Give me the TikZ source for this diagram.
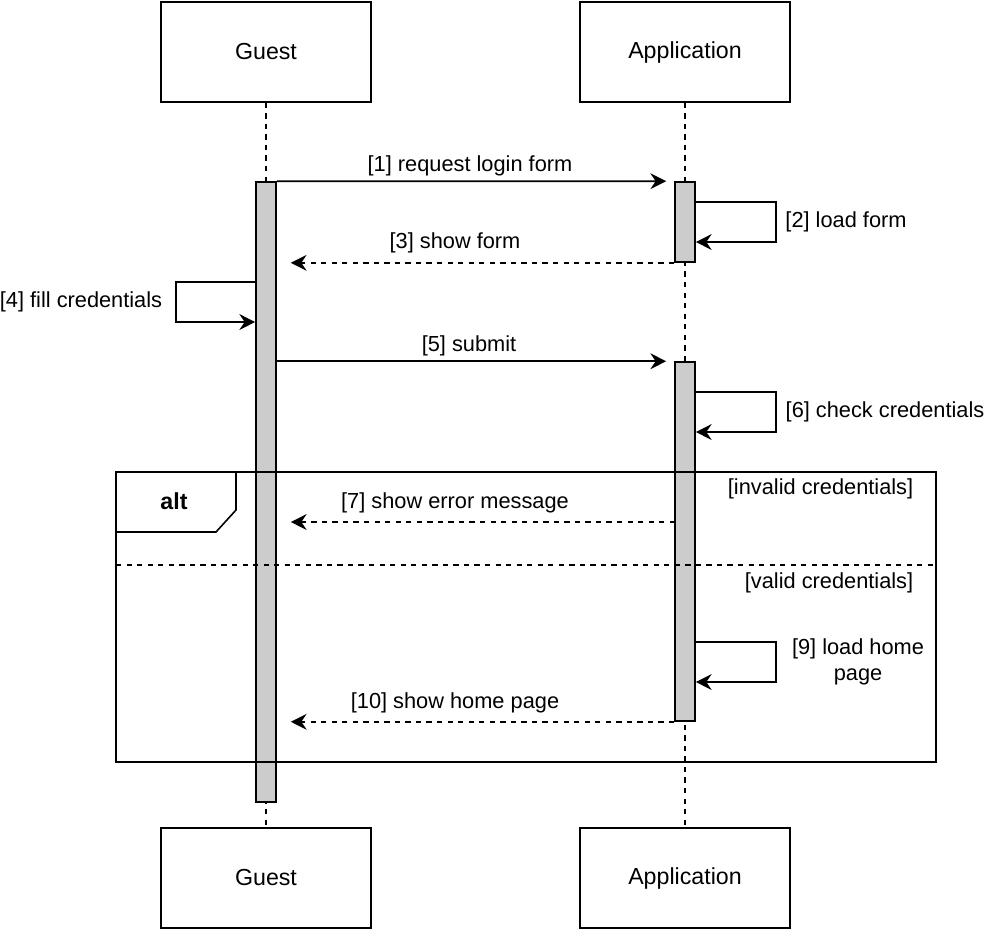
\documentclass[tikz,border=0pt]{standalone}
\usepackage{fontspec}
\setmainfont{Liberation Sans}
\usepackage{xcolor}
\usetikzlibrary{arrows.meta}
\definecolor{bargray}{HTML}{CCCCCC}

\begin{document}
\begin{tikzpicture}[x=0.02cm,y=-0.02cm,line width=0.9pt,
  actor/.style={draw,minimum width=4.2cm,minimum height=2cm,font=\fontsize{13.2}{15}\selectfont},
  lifeline/.style={dashed},
  bar/.style={draw,fill=bargray,minimum width=0.4cm,inner sep=0pt},
  msg/.style={-{Stealth[length=9pt,width=9pt,inset=3pt]}},
  ret/.style={msg,dashed},
  lbl/.style={font=\fontsize{12.4}{15}\selectfont}]
  \useasboundingbox (0,0) rectangle (991,937);
  \node[actor] at(266,52)(gtop){Guest};
  \node[actor] at(685,52)(atop){Application};
  \node[actor] at(266,878)(gbot){Guest};
  \node[actor] at(685,878)(abot){Application};
  \draw [lifeline](gtop) -- (gbot);
  \draw [lifeline](atop) -- (abot);
  \node[bar,minimum height=12.4cm] at(266,492)(gbar){};
  \node[bar,minimum height=1.6cm] at(685,222)(abar1){};
  \node[bar,minimum height=7.18cm] at(685,541.5)(abar2){};
  \coordinate (l2a) at(695,202);
  \coordinate (l2b) at(776,242);
  \coordinate (l4a) at(256,282);
  \coordinate (l4b) at(176,322);
  \coordinate (l6a) at(695,392);
  \coordinate (l6b) at(776,432);
  \coordinate (m7) at(675,522);
  \coordinate (l9a) at(695,642);
  \coordinate (l9b) at(776,682);
  \draw [msg](gbar.north east) -- ([xshift=-0.16cm]abar1.north west);
  \draw [msg](l2a) -| (l2b) -- (abar1.east |- l2b);
  \draw [ret](abar1.south west) -- ([xshift=0.28cm]gbar.east |- abar1.south west);
  \draw [msg](l4a) -| (l4b) -- (gbar.west |- l4b);
  \draw [msg](gbar.east |- abar2.north) -- ([xshift=-0.16cm]abar2.north west);
  \draw [msg](l6a) -| (l6b) -- (abar2.east |- l6b);
  \draw [ret](m7) -- ([xshift=0.28cm]gbar.east |- m7);
  \draw [msg](l9a) -| (l9b) -- (abar2.east |- l9b);
  \draw [ret](abar2.south west) -- ([xshift=0.28cm]gbar.east |- abar2.south west);
  \draw [](116,472) rectangle (936,762);
  \draw [](116,532) -- (216,532) -- (236,510) -- (236,472);
  \draw [dashed](116,565) -- (936,565);
  \node[font=\fontsize{13.2}{15}\selectfont\bfseries] at(174,501)(alt){alt};
  \node[lbl,anchor=east,inner sep=0pt] at(914,489)(invalid){[invalid credentials]};
  \node[lbl,anchor=east,inner sep=0pt] at(914,583)(valid){[valid credentials]};
  \node[lbl] at(470,166)(t1){[1] request login form};
  \node[lbl] at(846,222)(t2){[2] load form};
  \node[lbl] at(455,243)(t3){[3] show form};
  \node[lbl] at(81,302)(t4){[4] fill credentials};
  \node[lbl] at(469,346)(t5){[5] submit};
  \node[lbl] at(885,412)(t6){[6] check credentials};
  \node[lbl] at(455,503)(t7){[7] show error message};
  \node[lbl,align=center] at(858,662)(t9){[9] load home\\page};
  \node[lbl] at(455,703)(t10){[10] show home page};
\end{tikzpicture}
\end{document}
